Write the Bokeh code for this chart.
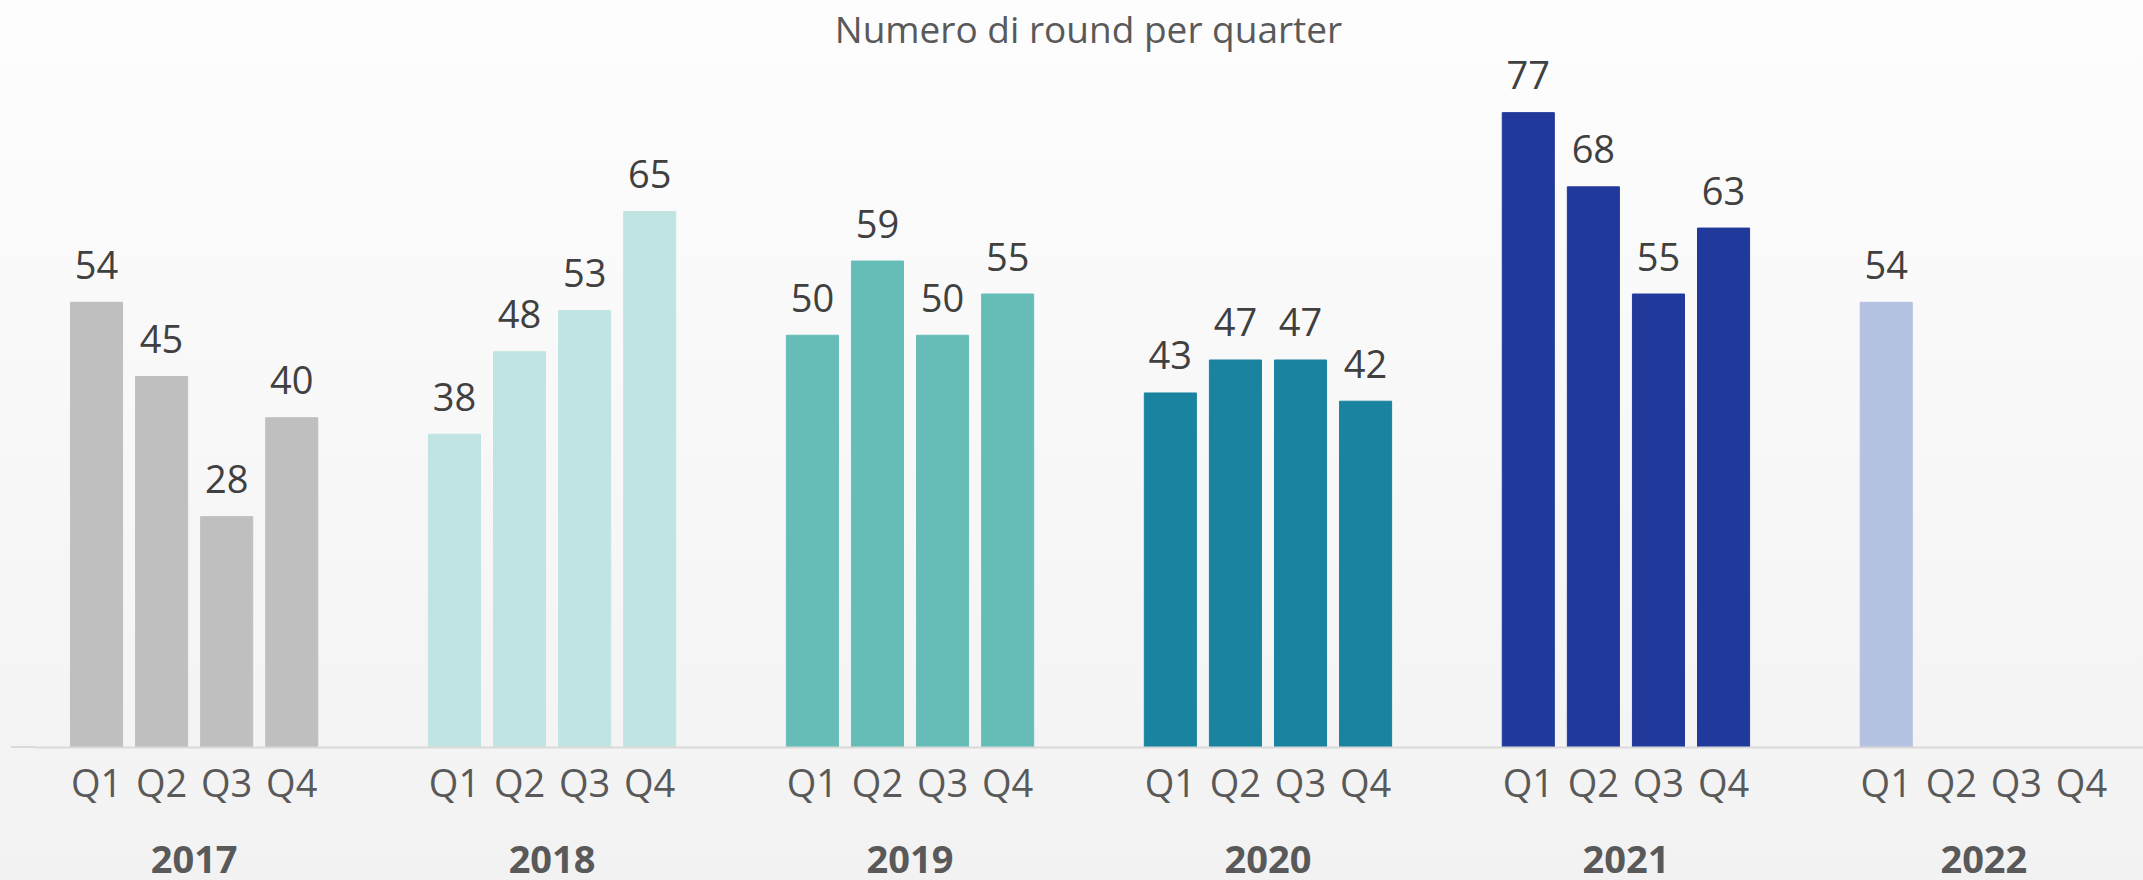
from bokeh.plotting import figure
from bokeh.models import ColumnDataSource, FactorRange, Range1d, Span, Label, InlineStyleSheet
from bokeh.core.properties import value
from bokeh.embed import file_html
from bokeh.resources import INLINE

# ---- data ----
years = ["2017", "2018", "2019", "2020", "2021", "2022"]
quarters = ["Q1", "Q2", "Q3", "Q4"]
rounds_2017 = [54, 45, 28, 40]
rounds_2018 = [38, 48, 53, 65]
rounds_2019 = [50, 59, 50, 55]
rounds_2020 = [43, 47, 47, 42]
rounds_2021 = [77, 68, 55, 63]
rounds_2022 = [54, None, None, None]
year_colors = ["#bfbfbf", "#c0e4e2", "#66bdb8", "#1a83a0", "#21399b", "#b5c1e0"]
title_text = "Numero di round per quarter"

all_rounds = [rounds_2017, rounds_2018, rounds_2019, rounds_2020, rounds_2021, rounds_2022]

factors = [(y, q) for y in years for q in quarters]

bx, btop, bcol, blab = [], [], [], []
for y, vals, c in zip(years, all_rounds, year_colors):
    for q, v in zip(quarters, vals):
        if v is None:
            continue
        bx.append((y, q))
        btop.append(v)
        bcol.append(c)
        blab.append(str(v))

bar_src = ColumnDataSource(dict(x=bx, top=btop, color=bcol, label=blab))
q_src = ColumnDataSource(dict(x=factors, y=[0] * len(factors), label=[f[1] for f in factors]))
y_src = ColumnDataSource(dict(x=years, y=[0] * len(years), label=years))

FONT = value("Open Sans")

x_range = FactorRange(factors=factors, group_padding=1.5, factor_padding=0.0,
                      range_padding=0.453, range_padding_units="absolute")
y_range = Range1d(-16.13, 90.60)

p = figure(width=2143, height=880, x_range=x_range, y_range=y_range,
           output_backend="svg", toolbar_location=None, title=None,
           x_axis_location=None, y_axis_location=None, min_border=0)
p.min_border_left = 34
p.min_border_right = 0
p.min_border_top = 0
p.min_border_bottom = 0
p.xgrid.visible = False
p.ygrid.visible = False
p.outline_line_color = None
p.background_fill_color = None
p.border_fill_color = None
p.stylesheets = [InlineStyleSheet(css=(
    ":host { background: "
    "linear-gradient(#d9d9d9, #d9d9d9) no-repeat 11px 746px / 24px 2px, "
    "linear-gradient(to bottom, #fdfdfd 0%, #f2f2f2 100%); }"))]

p.vbar(x="x", top="top", width=0.8, color="color", source=bar_src)

p.add_layout(Span(location=0, dimension="width", line_color="#d9d9d9", line_width=2))

p.text(x="x", y="top", text="label", source=bar_src, text_align="center",
       text_baseline="alphabetic", y_offset=-37.5, text_font=FONT,
       text_font_size="38px", text_color="#404040")

p.text(x="x", y="y", text="label", source=q_src, text_align="center",
       text_baseline="alphabetic", y_offset=34.5, text_font=FONT,
       text_font_size="38px", text_color="#595959")

p.text(x="x", y="y", text="label", source=y_src, text_align="center",
       text_baseline="alphabetic", y_offset=112, text_font=FONT,
       text_font_size="38px", text_font_style="bold", text_color="#595959")

p.add_layout(Label(x=1054, y=852.5, x_units="screen", y_units="screen", text=title_text,
                   text_align="center", text_baseline="alphabetic", text_font="Open Sans",
                   text_font_size="37px", text_color="#595959"))

open("out.html", "w").write(file_html(p, INLINE, title="Numero di round per quarter"))
